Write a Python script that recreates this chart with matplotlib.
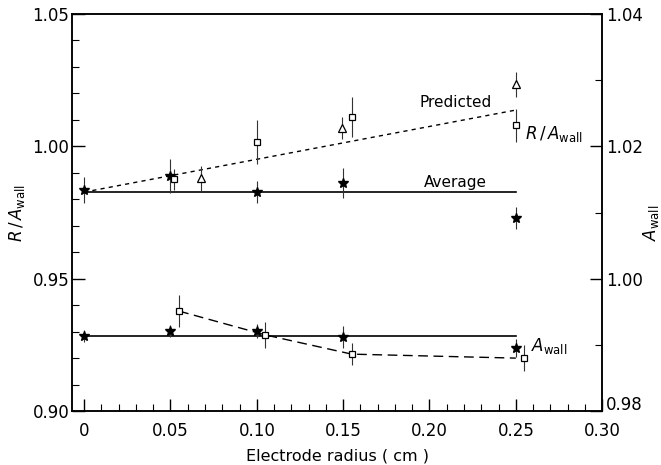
import matplotlib
matplotlib.use('Agg')
from matplotlib import pyplot as plt
from matplotlib.ticker import MultipleLocator, FuncFormatter
from matplotlib.transforms import ScaledTranslation

# R / A_wall (left axis)
star_x = [0.0, 0.05, 0.10, 0.15, 0.25]
star_y = [0.9835, 0.9888, 0.9827, 0.9861, 0.9729]
star_err = [0.005, 0.0064, 0.0042, 0.0058, 0.004]

sq_x = [0.052, 0.10, 0.155, 0.25]
sq_y = [0.9876, 1.0016, 1.0111, 1.008]
sq_err = [0.004, 0.0083, 0.0077, 0.0062]

tri_x = [0.0675, 0.1495, 0.25]
tri_y = [0.988, 1.0069, 1.0235]
tri_err = [0.0047, 0.0043, 0.0047]

pred_x = [0.0, 0.25]
pred_y = [0.9827, 1.0137]
avg_x = [0.0, 0.25]
avg_y = [0.9827, 0.9827]

# A_wall (right axis)
aw_star_x = [0.0, 0.05, 0.10, 0.15, 0.25]
aw_star_y = [0.9913, 0.9921, 0.9921, 0.9912, 0.9895]
aw_star_err = [0.0009, 0.0009, 0.001, 0.0017, 0.0014]

aw_sq_x = [0.055, 0.105, 0.155, 0.255]
aw_sq_y = [0.9951, 0.9915, 0.9886, 0.9880]
aw_sq_err = [0.0024, 0.002, 0.0017, 0.002]

aw_fit_x = [0.055, 0.105, 0.155, 0.25]
aw_fit_y = [0.9951, 0.9915, 0.9886, 0.9880]
aw_avg_x = [0.0, 0.25]
aw_avg_y = [0.9913, 0.9913]

plt.rcParams['font.family'] = ['DejaVu Sans']
plt.rcParams['font.size'] = 11

fig = plt.figure(figsize=(6.61, 4.65), dpi=100)
ax = fig.add_axes([0.109, 0.116, 0.802, 0.854])
ax2 = ax.twinx()

ebkw = dict(fmt='none', ecolor='#333333', elinewidth=0.8, capsize=0)

# upper group
ax.plot(pred_x, pred_y, color='black', lw=1.0, ls=(0, (3, 3)))
ax.plot(avg_x, avg_y, color='black', lw=1.2)
ax.errorbar(star_x, star_y, yerr=star_err, **ebkw)
ax.errorbar(sq_x, sq_y, yerr=sq_err, **ebkw)
ax.errorbar(tri_x, tri_y, yerr=tri_err, **ebkw)
ax.plot(star_x, star_y, ls='none', marker='*', ms=7.5, color='black')
ax.plot(sq_x, sq_y, ls='none', marker='s', ms=4.5, mfc='white', mec='black', mew=0.9)
ax.plot(tri_x, tri_y, ls='none', marker='^', ms=6, mfc='white', mec='black', mew=0.9)

# lower group
ax2.plot(aw_avg_x, aw_avg_y, color='black', lw=1.2)
ax2.plot(aw_fit_x, aw_fit_y, color='black', lw=1.0, ls=(0, (7, 4)))
ax2.errorbar(aw_star_x, aw_star_y, yerr=aw_star_err, **ebkw)
ax2.errorbar(aw_sq_x, aw_sq_y, yerr=aw_sq_err, **ebkw)
ax2.plot(aw_star_x, aw_star_y, ls='none', marker='*', ms=7.5, color='black')
ax2.plot(aw_sq_x, aw_sq_y, ls='none', marker='s', ms=5, mfc='white', mec='black', mew=0.9)

ax.text(0.215, 1.0165, 'Predicted', fontsize=11, ha='center', va='center')
ax.text(0.215, 0.9865, 'Average', fontsize=11, ha='center', va='center')
ax.text(0.2555, 1.0045, r'$R\,/\,A_{\rm wall}$', fontsize=12, ha='left', va='center')
ax2.text(0.259, 0.9898, r'$A_{\rm wall}$', fontsize=12, ha='left', va='center')

ax.set_xlim(-0.007, 0.30)
ax.set_ylim(0.90, 1.05)
ax2.set_ylim(0.98, 1.04)

ax.xaxis.set_major_locator(MultipleLocator(0.05))
ax.xaxis.set_minor_locator(MultipleLocator(0.01))
ax.yaxis.set_major_locator(MultipleLocator(0.05))
ax.yaxis.set_minor_locator(MultipleLocator(0.01))
ax2.yaxis.set_major_locator(MultipleLocator(0.02))
ax2.yaxis.set_minor_locator(MultipleLocator(0.01))

ax.xaxis.set_major_formatter(FuncFormatter(lambda v, p: '0' if abs(v) < 1e-9 else '%.2f' % v))
ax.yaxis.set_major_formatter(FuncFormatter(lambda v, p: '%.2f' % v))
ax2.yaxis.set_major_formatter(FuncFormatter(lambda v, p: '%.2f' % v))

ax.tick_params(axis='both', which='major', direction='in', length=9, width=1.0, labelsize=12)
ax.tick_params(axis='x', which='major', pad=8)
ax.tick_params(axis='both', which='minor', direction='in', length=5, width=0.8)
ax.tick_params(axis='y', right=False, pad=2)
ax.tick_params(axis='x', top=False, which='both')
ax2.tick_params(axis='y', which='major', direction='in', length=9, width=1.0, labelsize=12, pad=3)
ax2.tick_params(axis='y', which='minor', direction='in', length=5, width=0.8)

for a in (ax, ax2):
    for s in a.spines.values():
        s.set_linewidth(1.1)

ax.set_xlabel('Electrode radius ( cm )', fontsize=11.5, labelpad=6)
ax.set_ylabel(r'$R\,/\,A_{\rm wall}$', fontsize=12, labelpad=4)
fig.text(0.985, 0.52, r'$A_{\rm wall}$', fontsize=12, rotation=90, ha='center', va='center')

# lift the bottom right-axis label off the x tick labels
fig.canvas.draw()
lbl = ax2.get_yticklabels()[0]
for t in ax2.get_yticklabels():
    if t.get_text() == '0.98':
        t.set_transform(t.get_transform() + ScaledTranslation(0, 6 / 72, fig.dpi_scale_trans))

fig.savefig('out.png', dpi=100)
